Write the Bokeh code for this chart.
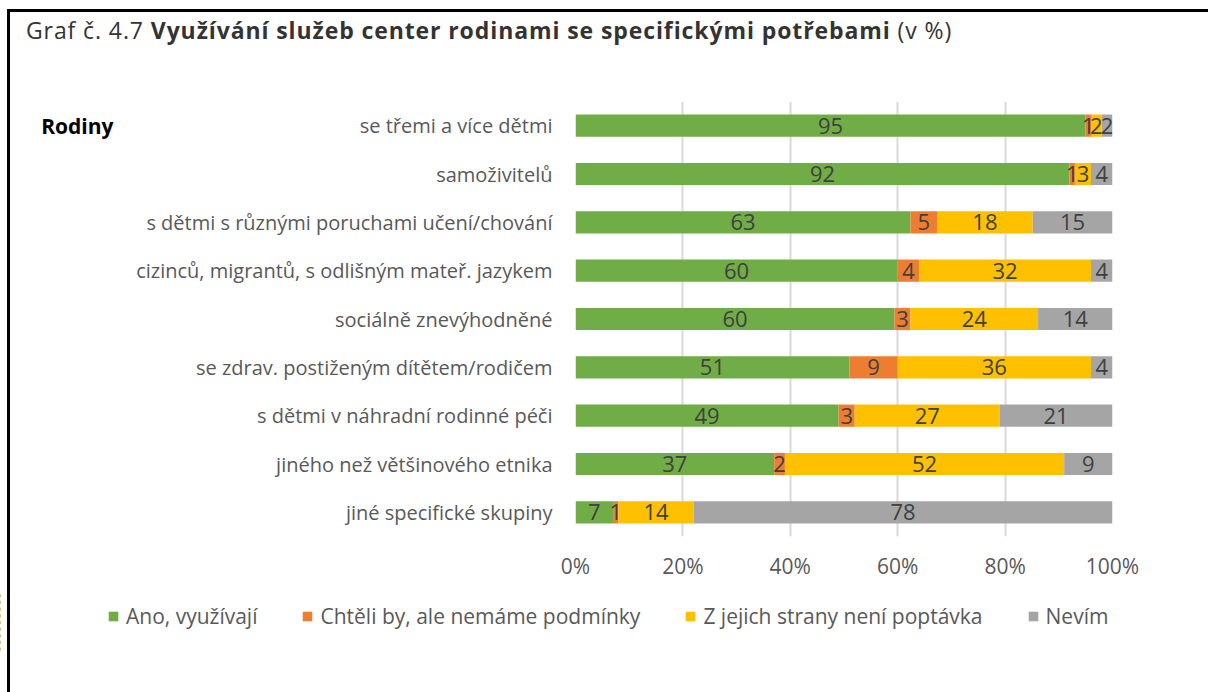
from bokeh.plotting import figure
from bokeh.layouts import column
from bokeh.models import (FactorRange, Range1d, Legend, LegendItem, FixedTicker,
                          PrintfTickFormatter, ColumnDataSource, CategoricalAxis, Div)
from bokeh.core.properties import value
from bokeh.embed import file_html
from bokeh.resources import INLINE

title_plain = "Graf č. 4.7"
title_bold = "Využívání služeb center rodinami se specifickými potřebami"
title_tail = "(v %)"
group_label = "Rodiny"
categories = [
    "se třemi a více dětmi",
    "samoživitelů",
    "s dětmi s různými poruchami učení/chování",
    "cizinců, migrantů, s odlišným mateř. jazykem",
    "sociálně znevýhodněné",
    "se zdrav. postiženým dítětem/rodičem",
    "s dětmi v náhradní rodinné péči",
    "jiného než většinového etnika",
    "jiné specifické skupiny",
]
ano = [95, 92, 63, 60, 60, 51, 49, 37, 7]
chteli = [1, 1, 5, 4, 3, 9, 3, 2, 1]
poptavka = [2, 3, 18, 32, 24, 36, 27, 52, 14]
nevim = [2, 4, 15, 4, 14, 4, 21, 9, 78]
series_names = ["Ano, využívají", "Chtěli by, ale nemáme podmínky",
                "Z jejich strany není poptávka", "Nevím"]
colors = ["#70AD47", "#ED7D31", "#FFC000", "#A5A5A5"]
x_ticks = [0, 20, 40, 60, 80, 100]

FONT = "Open Sans"
OX, OY = 1, 8         # page offset of the figures
W = 1200
DH = 52               # title div height
FH = 530              # main figure height
LH = 60               # legend figure height
FL, FR, FT, FB = 576, 1113, 99, 534   # frame edges in page px
fig_top = OY + DH

series = [ano, chteli, poptavka, nevim]
keys = ["s0", "s1", "s2", "s3"]
totals = [sum(v) for v in zip(*series)]
data = {"cat": categories}
for k, s in zip(keys, series):
    data[k] = [v / t * 100 for v, t in zip(s, totals)]
src = ColumnDataSource(data)

p = figure(width=W, height=FH, output_backend="svg", toolbar_location=None,
           y_range=FactorRange(*reversed(categories)), x_range=(0, 100))
p.frame_align = False
p.min_border_left = FL - OX
p.min_border_right = W - (FR - OX)
p.min_border_top = FT - fig_top
p.min_border_bottom = fig_top + FH - FB
p.outline_line_color = None
p.background_fill_color = "white"
p.border_fill_color = None

renderers = p.hbar_stack(keys, y="cat", height=0.46, color=colors, source=src,
                         line_color=None)

# data labels
for i, k in enumerate(keys):
    xs, ys, ts = [], [], []
    for j, c in enumerate(categories):
        left = sum(data[kk][j] for kk in keys[:i])
        xs.append(left + data[k][j] / 2)
        ys.append(c)
        ts.append(str(series[i][j]))
    p.text(x=xs, y=ys, text=ts, text_align="center", text_baseline="middle",
           text_font=value(FONT), text_font_size="22px", text_color="#404040")

# axes
p.xaxis.ticker = FixedTicker(ticks=x_ticks)
p.xaxis.formatter = PrintfTickFormatter(format="%d%%")
p.xaxis.axis_line_color = None
p.xaxis.major_tick_line_color = None
p.xaxis.minor_tick_line_color = None
p.xaxis.major_label_text_font = FONT
p.xaxis.major_label_text_font_size = "21px"
p.xaxis.major_label_text_color = "#595959"
p.xaxis.major_label_standoff = 9

p.yaxis.axis_line_color = None
p.yaxis.major_tick_line_color = None
p.yaxis.minor_tick_line_color = None
p.yaxis.major_label_text_font = FONT
p.yaxis.major_label_text_font_size = "20px"
p.yaxis.major_label_text_color = "#595959"
p.yaxis.major_label_standoff = 17

# group label "Rodiny" as an outer categorical axis aligned with the first row
n = len(categories)
grp_factors = [" " * (k + 1) for k in range(n - 1)] + [group_label]
p.extra_y_ranges = {"grp": FactorRange(*grp_factors)}
gax = CategoricalAxis(y_range_name="grp",
                      axis_line_color=None, major_tick_line_color=None,
                      minor_tick_line_color=None, major_label_standoff=14,
                      major_label_text_font=FONT, major_label_text_font_size="21px",
                      major_label_text_font_style="bold",
                      major_label_text_color="#000000")
p.add_layout(gax, "left")

p.xgrid.grid_line_color = "#D9D9D9"
p.xgrid.grid_line_width = 2
p.ygrid.grid_line_color = None

# legend in its own strip; its renderers are the same stacked series,
# drawn outside the strip's visible x range so only the legend shows
lf = figure(width=W, height=LH, output_backend="svg", toolbar_location=None,
            x_range=Range1d(200, 300), y_range=FactorRange(*reversed(categories)),
            min_border=0, x_axis_location=None, y_axis_location=None)
lf.frame_align = False
lf.grid.visible = False
lf.outline_line_color = None
lf.border_fill_color = None
lf.background_fill_color = None
proxies = lf.hbar_stack(keys, y="cat", height=0.46, color=colors, source=src,
                        line_color=None)
items = [LegendItem(label=nm, renderers=[r]) for nm, r in zip(series_names, proxies)]
lg = Legend(items=items, location=(108 - OX, LH - (617 - (fig_top + FH)) - 11),
            orientation="horizontal",
            padding=0, margin=0, border_line_color=None, background_fill_alpha=0,
            glyph_width=12, glyph_height=12, label_standoff=7, spacing=44,
            label_text_font=FONT, label_text_font_size="21px",
            label_text_color="#595959", label_height=12)
lf.add_layout(lg, "center")

title_html = (
    '<div style="position:absolute;left:2px;top:4px;width:1210px;height:3px;background:#000"></div>'
    '<div style="position:absolute;left:2px;top:4px;width:3px;height:684px;background:#000"></div>'
    '<div style="position:absolute;left:21px;top:9px;white-space:nowrap;'
    'font-family:\'Open Sans\';font-size:23px;letter-spacing:0.9px;color:#333333;">'
    f'{title_plain} <b>{title_bold}</b> {title_tail}</div>'
)
title_div = Div(text=title_html, width=W, height=DH,
                styles={"overflow": "visible"})

layout = column(title_div, p, lf, spacing=0)
open("out.html", "w").write(file_html(layout, INLINE))
